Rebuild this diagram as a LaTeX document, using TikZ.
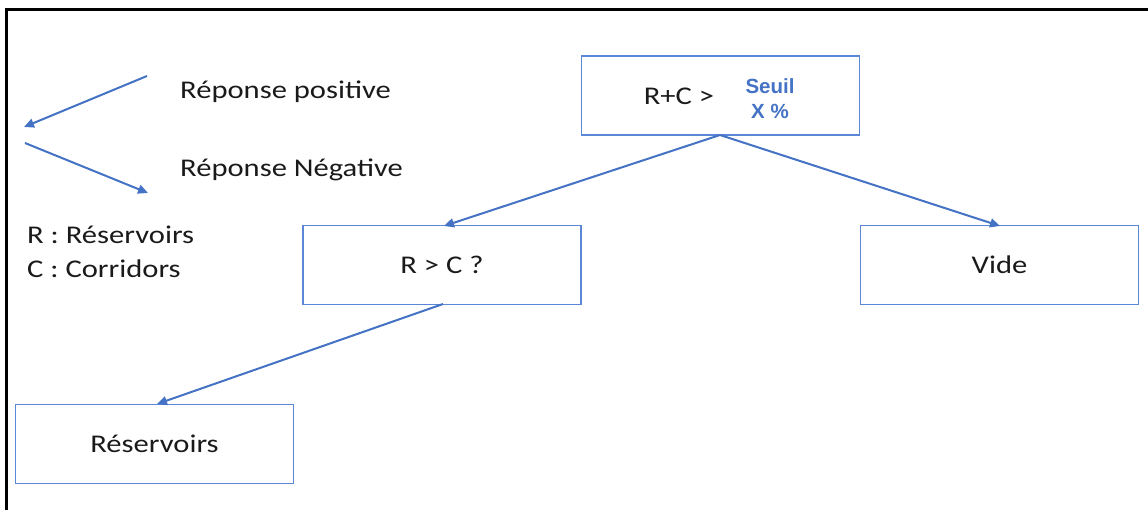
\documentclass[tikz,border=0pt]{standalone}
\usepackage{fontspec}
\setmainfont{Carlito}[FakeStretch=1.2]
\newfontfamily\arialfont{Liberation Sans}
\usetikzlibrary{arrows.meta}
\definecolor{arrowblue}{HTML}{4472C4}
\definecolor{boxblue}{HTML}{5B87D6}
\definecolor{textgray}{HTML}{1A1A1A}
\begin{document}
\begin{tikzpicture}[x=1pt,y=-1pt,
  box/.style={draw=boxblue,line width=1.2pt,minimum width=278pt,minimum height=79pt,inner sep=0pt,text=textgray,font=\fontsize{25.5}{30}\selectfont},
  conn/.style={draw=arrowblue,line width=2pt,-{Triangle[length=10pt,width=9pt]}},
  lbl/.style={anchor=base west,inner sep=0pt,text=textgray,font=\fontsize{25.5}{30}\selectfont}]
\useasboundingbox (0,0) rectangle (1148,510);
\draw[line width=3pt] (6,510) -- (6,10) -- (1148,10);
\node[box] (top) at (720.5,95.5) {};
\node[anchor=base,inner sep=0pt,text=textgray,font=\fontsize{25.5}{30}\selectfont] (rc) at (679,105) {R+C >};
\node[anchor=base,inner sep=0pt,text=arrowblue,font=\arialfont\bfseries\fontsize{20.5}{24}\selectfont] (seuil) at (770,94) {Seuil};
\node[anchor=base,inner sep=0pt,text=arrowblue,font=\arialfont\bfseries\fontsize{20.5}{24}\selectfont] (xpct) at (770,119) {X \%};
\node[box] (rgc) at (442,265) {R > C ?};
\node[box] (vide) at (999.5,265) {Vide};
\node[box] (res) at (154.5,444) {Réservoirs};
\coordinate (topb) at (720,135);
\coordinate (rgct) at (444,226);
\coordinate (videt) at (1000,226);
\coordinate (rgcb) at (443,304);
\coordinate (rest) at (157,404);
\draw[conn] (topb) -- (rgct);
\draw[conn] (topb) -- (videt);
\draw[conn] (rgcb) -- (rest);
\coordinate (p1) at (147,76);
\coordinate (p2) at (24,127);
\coordinate (n1) at (25,143);
\coordinate (n2) at (148,193);
\draw[conn] (p1) -- (p2);
\draw[conn] (n1) -- (n2);
\node[lbl] (lpos) at (180,99) {Réponse positive};
\node[lbl] (lneg) at (180,177) {Réponse Négative};
\node[lbl] (lr) at (27,244) {R : Réservoirs};
\node[lbl] (lc) at (27,278) {C : Corridors};
\end{tikzpicture}
\end{document}
